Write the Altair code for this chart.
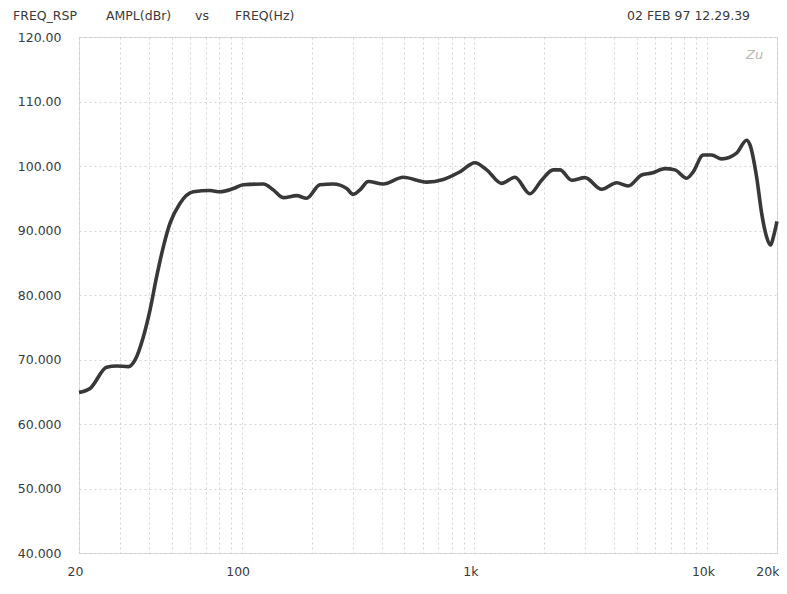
import altair as alt
import pandas as pd

# Frequency response
freq_hz = [20, 22.3, 26.3, 29.0, 32.6, 34.8, 37.8, 40.4, 43.1, 46.1, 49.2, 54.3, 62.0,
           73.1, 80.7, 92.1, 101.6, 123.9, 136.8, 151, 172.4, 190.3, 217.1, 247.6,
           282.8, 301.8, 322.6, 350.2, 406.2, 495.0, 624.1, 735.5, 867.7, 1006, 1130,
           1311, 1495, 1734, 1947, 2184, 2334, 2620, 2989, 3527, 4090, 4587, 5239,
           5784, 6598, 7284, 8178, 8730, 9638, 10471, 11560, 13410, 14806, 15298,
           16346, 17177, 18045, 18774, 19300, 20000]
level_db = [64.9, 65.5, 68.8, 69.0, 68.9, 69.9, 73.5, 77.7, 82.8, 87.5, 91.1, 94.2, 96.0,
            96.2, 96.0, 96.5, 97.1, 97.2, 96.3, 95.1, 95.4, 95.0, 97.1, 97.2,
            96.5, 95.6, 96.3, 97.6, 97.2, 98.25, 97.5, 97.9, 99.1, 100.5, 99.4,
            97.3, 98.25, 95.7, 97.8, 99.4, 99.4, 97.8, 98.2, 96.4, 97.4, 96.9, 98.6,
            98.9, 99.6, 99.4, 98.1, 99.1, 101.7, 101.7, 101.1, 102.0, 104.0, 103.3,
            98.3, 92.7, 89.0, 87.75, 89.0, 91.4]

y_ticks = [40, 50, 60, 70, 80, 90, 100, 110, 120]
x_grid = [20, 30, 40, 50, 60, 70, 80, 90,
          100, 200, 300, 400, 500, 600, 700, 800, 900,
          1000, 2000, 3000, 4000, 5000, 6000, 7000, 8000, 9000,
          10000, 20000]

title_parts = ["FREQ_RSP", "AMPL(dBr)", "vs", "FREQ(Hz)"]
stamp = "02 FEB 97 12.29.39"

df = pd.DataFrame({"f": freq_hz, "db": level_db})

FONT = "DejaVu Sans"
TXT = "#3a3a3a"

x_label_expr = ("datum.value == 20 ? '20' : datum.value == 100 ? '100' : "
                "datum.value == 1000 ? '1k' : datum.value == 10000 ? '10k' : "
                "datum.value == 20000 ? '20k' : ''")
y_label_expr = "datum.value >= 100 ? format(datum.value, '.2f') : format(datum.value, '.3f')"

grid_kw = dict(grid=True, gridColor="#c4c4c4", gridDash=[2, 3], gridWidth=0.7,
               ticks=False, domain=False, title=None, labelFont=FONT,
               labelFontSize=12.5, labelColor=TXT)

line = alt.Chart(df).mark_line(color="#383838", strokeWidth=3.6,
                               interpolate="monotone").encode(
    x=alt.X("f:Q",
            scale=alt.Scale(type="log", domain=[20, 20000], nice=False),
            axis=alt.Axis(values=x_grid, labelExpr=x_label_expr, labelPadding=12,
                          labelAlign=alt.ExprRef(expr="datum.value == 20000 ? 'right' : 'center'"),
                          labelOffset=alt.ExprRef(expr="datum.value == 20000 ? 2 : -4"),
                          labelFlush=False, labelOverlap=False, **grid_kw)),
    y=alt.Y("db:Q",
            scale=alt.Scale(domain=[40, 120], nice=False, zero=False),
            axis=alt.Axis(values=y_ticks, labelExpr=y_label_expr, labelPadding=18,
                          **grid_kw)),
)

def label(text, x, y, color=TXT, size=12.5, style="normal"):
    return alt.Chart(alt.Data(values=[{}])).mark_text(
        text=text, font=FONT, fontSize=size, color=color, align="left",
        baseline="middle", fontStyle=style
    ).encode(x=alt.value(x), y=alt.value(y))

texts = [
    label(title_parts[0], -66, -21),
    label(title_parts[1], 27, -21),
    label(title_parts[2], 116, -21),
    label(title_parts[3], 156, -21),
    label(stamp, 548, -21),
    label("Zu", 667, 18, color="#b8b8b8", size=13, style="italic"),
]

chart = alt.layer(line, *texts).properties(
    width=698, height=516,
    autosize=alt.AutoSizeParams(type="none"),
    padding={"left": 71, "top": 29, "right": 2, "bottom": 28},
).configure_view(stroke=None).configure(background="white")

chart.save("out.html", embed_options={"renderer": "svg", "actions": False})
